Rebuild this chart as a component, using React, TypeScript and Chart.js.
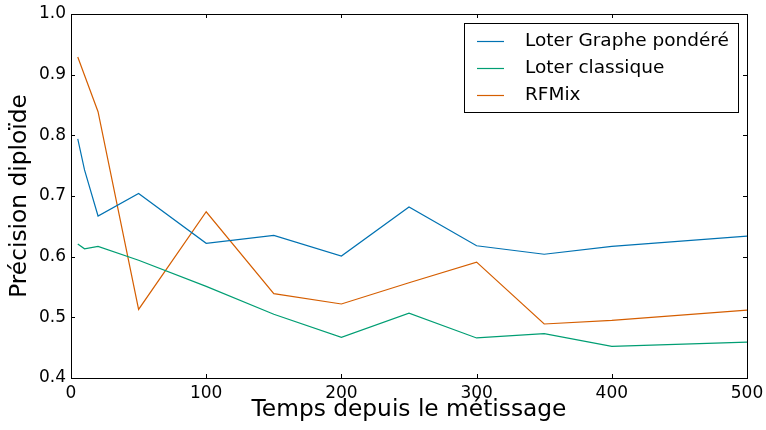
import React, { useEffect, useRef } from "react";
import { Chart, registerables } from "chart.js";

Chart.register(...registerables);

const generations = [5, 10, 20, 50, 100, 150, 200, 250, 300, 350, 400, 500];
const loterGraphe = [0.794, 0.743, 0.667, 0.704, 0.622, 0.635, 0.601, 0.682, 0.618, 0.604, 0.617, 0.634];
const loterClassique = [0.621, 0.613, 0.617, 0.594, 0.551, 0.505, 0.467, 0.507, 0.466, 0.473, 0.452, 0.459];
const rfmix = [0.929, 0.899, 0.839, 0.513, 0.674, 0.539, 0.522, 0.557, 0.591, 0.489, 0.495, 0.512];

const seriesLabels = ["Loter Graphe pondéré", "Loter classique", "RFMix"];
const seriesColors = ["#0072B2", "#009E73", "#D55E00"];
const xTitle = "Temps depuis le métissage";
const yTitle = "Précision diploïde";
const xMin = 0, xMax = 500, xStep = 100;
const yMin = 0.4, yMax = 1.0, yStep = 0.1;

const FONT = "'DejaVu Sans', sans-serif";

const framePlugin = {
  id: "frameTicks",
  afterDraw(chart: any) {
    const { ctx, chartArea } = chart;
    const { left, right, top, bottom } = chartArea;
    const xs = chart.scales.x;
    const ys = chart.scales.y;
    const tl = 4;
    ctx.save();
    ctx.strokeStyle = "#000";
    ctx.lineWidth = 1;
    ctx.beginPath();
    xs.ticks.forEach((t: any) => {
      const px = Math.round(xs.getPixelForValue(t.value)) + 0.5;
      ctx.moveTo(px, bottom);
      ctx.lineTo(px, bottom - tl);
      ctx.moveTo(px, top);
      ctx.lineTo(px, top + tl);
    });
    ys.ticks.forEach((t: any) => {
      const py = Math.round(ys.getPixelForValue(t.value)) + 0.5;
      ctx.moveTo(left, py);
      ctx.lineTo(left + tl, py);
      ctx.moveTo(right, py);
      ctx.lineTo(right - tl, py);
    });
    ctx.stroke();
    ctx.strokeRect(Math.round(left) + 0.5, Math.round(top) + 0.5, Math.round(right - left), Math.round(bottom - top));

    // legend
    const bw = 274, bh = 89;
    const bx = Math.round(right) - 9 - bw;
    const by = Math.round(top) + 9;
    ctx.fillStyle = "#fff";
    ctx.fillRect(bx, by, bw, bh);
    ctx.strokeStyle = "#000";
    ctx.strokeRect(bx + 0.5, by + 0.5, bw, bh);
    ctx.font = `18.5px ${FONT}`;
    ctx.textBaseline = "middle";
    ctx.textAlign = "left";
    chart.data.datasets.forEach((ds: any, i: number) => {
      const ry = by + 18 + i * 27;
      ctx.strokeStyle = ds.borderColor;
      ctx.lineWidth = 1.2;
      ctx.beginPath();
      ctx.moveTo(bx + 13, ry + 0.5);
      ctx.lineTo(bx + 40, ry + 0.5);
      ctx.stroke();
      ctx.fillStyle = "#000";
      ctx.fillText(ds.label, bx + 61, ry);
    });
    ctx.restore();
  },
};

export default function App() {
  const ref = useRef<HTMLCanvasElement | null>(null);
  useEffect(() => {
    document.body.style.margin = "0";
    const series = [loterGraphe, loterClassique, rfmix];
    const chart = new Chart(ref.current!, {
      type: "line",
      data: {
        datasets: series.map((vals, i) => ({
          label: seriesLabels[i],
          data: generations.map((g, j) => ({ x: g, y: vals[j] })),
          borderColor: seriesColors[i],
          backgroundColor: seriesColors[i],
          borderWidth: 1.2,
          pointRadius: 0,
          tension: 0,
          fill: false,
        })),
      },
      options: {
        animation: false,
        responsive: true,
        maintainAspectRatio: false,
        layout: { padding: { left: 0, right: 19, top: 14, bottom: 0 } },
        plugins: { legend: { display: false }, tooltip: { enabled: false } },
        scales: {
          x: {
            type: "linear",
            min: xMin,
            max: xMax,
            grid: { display: false, drawTicks: false },
            border: { display: false },
            ticks: { stepSize: xStep, color: "#000", font: { family: FONT, size: 17 }, padding: 5, maxRotation: 0 },
            title: { display: true, text: xTitle, color: "#000", font: { family: FONT, size: 23.3 }, padding: { top: 0, bottom: 6 } },
            afterFit: (s: any) => { s.height = 52; s.paddingLeft = 0; s.paddingRight = 0; },
          },
          y: {
            type: "linear",
            min: yMin,
            max: yMax,
            grid: { display: false, drawTicks: false },
            border: { display: false },
            ticks: { stepSize: yStep, color: "#000", font: { family: FONT, size: 17 }, padding: 5, callback: (v: any) => Number(v).toFixed(1) },
            title: { display: true, text: yTitle, color: "#000", font: { family: FONT, size: 23.3 }, padding: { top: 6, bottom: 0 } },
            afterFit: (s: any) => { s.width = 71; s.paddingTop = 0; s.paddingBottom = 0; },
          },
        },
      },
      plugins: [framePlugin],
    });
    return () => chart.destroy();
  }, []);
  return (
    <div style={{ position: "absolute", left: 0, top: 0, width: 766, height: 430 }}>
      <canvas ref={ref} />
    </div>
  );
}
